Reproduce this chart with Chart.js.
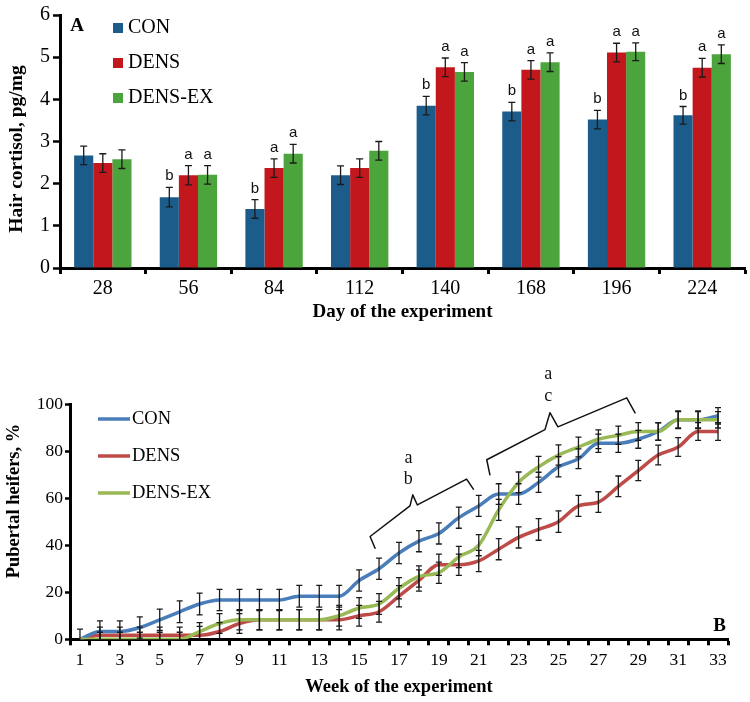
<!DOCTYPE html>
<html>
<head>
<meta charset="utf-8">
<script src="https://cdn.jsdelivr.net/npm/chart.js@4.4.0/dist/chart.umd.min.js"></script>
<style>
  body { margin: 0; background: #fff; }
  #wrap { position: relative; width: 750px; height: 702px; }
  #cortisolCanvas { position: absolute; left: 0; top: 0; }
  #pubertyCanvas { position: absolute; left: 0; top: 340px; }
</style>
</head>
<body>
<div id="wrap">
  <canvas id="cortisolCanvas" width="750" height="330"></canvas>
  <canvas id="pubertyCanvas" width="750" height="362"></canvas>
</div>
<script>
// Panel A - hair cortisol by day of the experiment
const days = ['28', '56', '84', '112', '140', '168', '196', '224'];
const cortisolCon = [2.67, 1.68, 1.40, 2.20, 3.85, 3.71, 3.52, 3.62];
const cortisolDens = [2.49, 2.20, 2.37, 2.37, 4.76, 4.70, 5.11, 4.75];
const cortisolDensEx = [2.58, 2.21, 2.71, 2.78, 4.65, 4.88, 5.13, 5.07];
const cortisolConErr = [0.22, 0.23, 0.22, 0.22, 0.22, 0.22, 0.22, 0.21];
const cortisolDensErr = [0.22, 0.23, 0.22, 0.22, 0.22, 0.22, 0.22, 0.22];
const cortisolDensExErr = [0.22, 0.22, 0.22, 0.22, 0.22, 0.22, 0.21, 0.22];
const lettersCon = ['', 'b', 'b', '', 'b', 'b', 'b', 'b'];
const lettersDens = ['', 'a', 'a', '', 'a', 'a', 'a', 'a'];
const lettersDensEx = ['', 'a', 'a', '', 'a', 'a', 'a', 'a'];
const cortisolTicks = [0, 1, 2, 3, 4, 5, 6];

// Panel B - pubertal heifers by week
const weeks = [1, 2, 3, 4, 5, 6, 7, 8, 9, 10, 11, 12, 13, 14, 15, 16, 17, 18, 19, 20, 21, 22, 23, 24, 25, 26, 27, 28, 29, 30, 31, 32, 33];
const weekLabels = [1, 3, 5, 7, 9, 11, 13, 15, 17, 19, 21, 23, 25, 27, 29, 31, 33];
const pubertalCon = [0, 3.3, 3.3, 5, 8.3, 11.7, 15, 16.7, 16.7, 16.7, 16.7, 18.3, 18.3, 18.3, 25, 30, 36.7, 41.7, 45, 51.7, 56.7, 61.7, 61.7, 66.7, 73.3, 76.7, 83.3, 83.3, 85, 88.3, 93.3, 93.3, 95];
const pubertalDens = [0, 1.7, 1.7, 1.7, 1.7, 1.7, 1.7, 3.3, 6.7, 8.3, 8.3, 8.3, 8.3, 8.3, 10, 11.7, 18.3, 25, 31.7, 31.7, 33.3, 38.3, 43.3, 46.7, 50, 56.7, 58.3, 65, 71.7, 78.3, 81.7, 88.3, 88.3];
const pubertalDensEx = [0, 0, 0, 0, 0, 0, 3.3, 6.7, 8.3, 8.3, 8.3, 8.3, 8.3, 10, 13.3, 15, 21.7, 26.7, 28.3, 35, 40, 55, 66.7, 73.3, 78.3, 81.7, 85, 86.7, 88.3, 88.3, 93.3, 93.3, 93.3];
const pubertalConErr = [4.3, 4.5, 4.5, 4.5, 4.5, 4.6, 4.6, 4.5, 4.5, 4.5, 4.5, 4.6, 4.6, 4.6, 4.5, 4.5, 4.5, 4.5, 4.5, 4.5, 4.5, 4.4, 4.4, 4.3, 4.3, 4.2, 3.9, 3.9, 3.8, 3.7, 3.8, 3.8, 3.5];
const pubertalDensErr = [0, 3.5, 3.5, 3.5, 3.5, 3.5, 3.8, 3.8, 4.2, 4.3, 4.3, 4.3, 4.3, 4.3, 4.4, 4.4, 4.5, 4.5, 4.5, 4.5, 4.5, 4.5, 4.5, 4.6, 4.6, 4.5, 4.4, 4.4, 4.3, 4.2, 4.0, 3.8, 3.8];
const pubertalDensExErr = [0, 3.0, 3.0, 3.0, 3.0, 3.0, 3.8, 4.2, 4.3, 4.3, 4.3, 4.3, 4.3, 4.4, 4.4, 4.4, 4.5, 4.5, 4.5, 4.5, 4.5, 4.5, 4.4, 4.4, 4.3, 4.2, 4.0, 3.9, 3.8, 3.8, 3.5, 3.5, 3.5];
const pubertalTicks = [0, 20, 40, 60, 80, 100];

// significance braces, points as [week, %]
const braceAB = [[15.80, 38.7], [15.55, 43.7], [17.55, 56.7], [17.69, 61.4], [17.92, 57.1], [20.39, 68.1], [20.73, 63.8]];
const braceAC = [[21.56, 69.9], [21.40, 76.3], [24.32, 89.1], [24.57, 96.3], [24.97, 90.3], [28.42, 102.6], [28.84, 96.2]];
const braceLabels = [
  { text: 'a', week: 17.47, value: 77 },
  { text: 'b', week: 17.47, value: 68.1 },
  { text: 'a', week: 24.49, value: 112.5 },
  { text: 'c', week: 24.49, value: 103.2 }
];

const serif = "'Liberation Serif', 'Times New Roman', serif";
const sans = "'Liberation Sans', Arial, sans-serif";

Chart.defaults.font.family = serif;
Chart.defaults.color = '#000';

// error bars (and letters if a dataset has them)
const errorBars = {
  id: 'errorBars',
  afterDatasetsDraw(chart, args, opts) {
    const { ctx, chartArea } = chart;
    const yScale = chart.scales.y;
    ctx.save();
    ctx.beginPath();
    ctx.rect(chartArea.left, chartArea.top, chartArea.width, chartArea.height);
    ctx.clip();
    ctx.strokeStyle = '#1a1a1a';
    ctx.lineWidth = opts.lineWidth;
    chart.data.datasets.forEach((ds, i) => {
      chart.getDatasetMeta(i).data.forEach((el, j) => {
        const err = ds.errors[j];
        if (!err) return;
        const v = ds.data[j];
        const top = yScale.getPixelForValue(v + err);
        const bottom = yScale.getPixelForValue(v - err);
        ctx.beginPath();
        ctx.moveTo(el.x, top);
        ctx.lineTo(el.x, bottom);
        ctx.moveTo(el.x - opts.cap, top);
        ctx.lineTo(el.x + opts.cap, top);
        ctx.moveTo(el.x - opts.cap, bottom);
        ctx.lineTo(el.x + opts.cap, bottom);
        ctx.stroke();
      });
    });
    ctx.restore();

    ctx.save();
    ctx.font = '15px ' + sans;
    ctx.fillStyle = '#111';
    ctx.textAlign = 'center';
    chart.data.datasets.forEach((ds, i) => {
      if (!ds.letters) return;
      chart.getDatasetMeta(i).data.forEach((el, j) => {
        if (!ds.letters[j]) return;
        ctx.fillText(ds.letters[j], el.x, yScale.getPixelForValue(ds.data[j] + ds.errors[j]) - 7);
      });
    });
    ctx.restore();
  }
};

// legend inside the plot, one entry per row
const sideLegend = {
  id: 'sideLegend',
  afterDraw(chart, args, opts) {
    const ctx = chart.ctx;
    ctx.save();
    ctx.font = opts.fontSize + 'px ' + serif;
    ctx.textBaseline = 'middle';
    ctx.fillStyle = '#000';
    chart.data.datasets.forEach((ds, i) => {
      const y = opts.y + i * opts.gap;
      if (opts.kind === 'box') {
        ctx.fillStyle = ds.backgroundColor;
        ctx.fillRect(opts.x, y - 5, 10, 10);
      } else {
        ctx.strokeStyle = ds.borderColor;
        ctx.lineWidth = 3.5;
        ctx.beginPath();
        ctx.moveTo(opts.x, y);
        ctx.lineTo(opts.x + 32, y);
        ctx.stroke();
      }
      ctx.fillStyle = '#000';
      ctx.fillText(ds.label, opts.textX, y);
    });
    ctx.restore();
  }
};

// panel letter and rotated y title
const panelText = {
  id: 'panelText',
  afterDraw(chart, args, opts) {
    const ctx = chart.ctx;
    ctx.save();
    ctx.fillStyle = '#000';
    ctx.textAlign = 'center';
    ctx.textBaseline = 'middle';
    ctx.font = 'bold ' + opts.panelSize + 'px ' + serif;
    ctx.fillText(opts.panel, opts.panelX, opts.panelY);
    ctx.translate(opts.titleX, opts.titleY);
    ctx.rotate(-Math.PI / 2);
    ctx.font = 'bold ' + opts.titleSize + 'px ' + serif;
    ctx.fillText(opts.title, 0, 0);
    ctx.restore();
  }
};

// curly braces with letters for panel B
const braces = {
  id: 'braces',
  afterDraw(chart) {
    const { ctx, scales } = chart;
    const px = w => scales.x.getPixelForValue(w - 1);
    const py = v => scales.y.getPixelForValue(v);
    ctx.save();
    ctx.strokeStyle = '#111';
    ctx.lineWidth = 1.5;
    ctx.lineJoin = 'round';
    ctx.lineCap = 'round';
    [braceAB, braceAC].forEach(pts => {
      ctx.beginPath();
      pts.forEach(([w, v], k) => {
        if (k === 0) ctx.moveTo(px(w), py(v));
        else ctx.lineTo(px(w), py(v));
      });
      ctx.stroke();
    });
    ctx.font = '18px ' + serif;
    ctx.fillStyle = '#111';
    ctx.textAlign = 'center';
    ctx.textBaseline = 'middle';
    braceLabels.forEach(l => ctx.fillText(l.text, px(l.week), py(l.value)));
    ctx.restore();
  }
};

new Chart(document.getElementById('cortisolCanvas'), {
  type: 'bar',
  data: {
    labels: days,
    datasets: [
      { label: 'CON', data: cortisolCon, errors: cortisolConErr, letters: lettersCon, backgroundColor: '#1c5c8a' },
      { label: 'DENS', data: cortisolDens, errors: cortisolDensErr, letters: lettersDens, backgroundColor: '#c2181d' },
      { label: 'DENS-EX', data: cortisolDensEx, errors: cortisolDensExErr, letters: lettersDensEx, backgroundColor: '#4ca43c' }
    ]
  },
  options: {
    responsive: false,
    animation: false,
    datasets: { bar: { categoryPercentage: 0.67, barPercentage: 1.0 } },
    layout: { padding: { top: 14, right: 5, left: 0, bottom: 0 } },
    plugins: {
      legend: { display: false },
      tooltip: { enabled: false },
      errorBars: { cap: 3.5, lineWidth: 1.3 },
      sideLegend: { kind: 'box', x: 113, textX: 128, y: 28, gap: 35, fontSize: 20 },
      panelText: { panel: 'A', panelX: 77, panelY: 26, panelSize: 19, title: 'Hair cortisol, pg/mg', titleX: 17, titleY: 149, titleSize: 19.5 }
    },
    scales: {
      x: {
        grid: { offset: true, drawOnChartArea: false, tickLength: 6, tickWidth: 3, tickColor: '#000' },
        border: { width: 3, color: '#000' },
        ticks: { font: { size: 20 }, color: '#000', padding: 3, maxRotation: 0 },
        title: { display: true, text: 'Day of the experiment', font: { size: 19, weight: 'bold' }, color: '#000', padding: { top: 0, bottom: 7 } },
        afterFit: s => { s.height = 62; }
      },
      y: {
        min: 0,
        max: 6,
        afterBuildTicks: s => { s.ticks = cortisolTicks.map(v => ({ value: v })); },
        ticks: { font: { size: 20 }, color: '#000', padding: 3 },
        grid: { drawOnChartArea: false, tickLength: 7, tickWidth: 2.5, tickColor: '#000' },
        border: { width: 3, color: '#000' },
        afterFit: s => { s.width = 60; }
      }
    }
  },
  plugins: [errorBars, sideLegend, panelText]
});

new Chart(document.getElementById('pubertyCanvas'), {
  type: 'line',
  data: {
    labels: weeks,
    datasets: [
      { label: 'CON', data: pubertalCon, errors: pubertalConErr, borderColor: '#4a7ebb', order: 1 },
      { label: 'DENS', data: pubertalDens, errors: pubertalDensErr, borderColor: '#be4b48', order: 2 },
      { label: 'DENS-EX', data: pubertalDensEx, errors: pubertalDensExErr, borderColor: '#98b954', order: 0 }
    ]
  },
  options: {
    responsive: false,
    animation: false,
    elements: {
      line: { borderWidth: 3.5, cubicInterpolationMode: 'monotone', fill: false },
      point: { radius: 0, hoverRadius: 0 }
    },
    layout: { padding: { top: 64, right: 22, left: 0, bottom: 0 } },
    plugins: {
      legend: { display: false },
      tooltip: { enabled: false },
      errorBars: { cap: 3, lineWidth: 1.3 },
      sideLegend: { kind: 'line', x: 98, textX: 132, y: 79, gap: 37, fontSize: 18.5 },
      panelText: { panel: 'B', panelX: 719.5, panelY: 286, panelSize: 19, title: 'Pubertal heifers, %', titleX: 14, titleY: 161, titleSize: 18.5 }
    },
    scales: {
      x: {
        offset: true,
        grid: { offset: true, drawOnChartArea: false, tickLength: 6, tickWidth: 3, tickColor: '#000' },
        border: { width: 3, color: '#000' },
        ticks: {
          font: { size: 17.5 }, color: '#000', padding: 5, maxRotation: 0, autoSkip: false,
          callback: (val, idx) => weekLabels.includes(weeks[idx]) ? String(weeks[idx]) : ''
        },
        title: { display: true, text: 'Week of the experiment', font: { size: 18.5, weight: 'bold' }, color: '#000', padding: { top: 0, bottom: 4 } },
        afterFit: s => { s.height = 62.7; }
      },
      y: {
        min: 0,
        max: 100,
        afterBuildTicks: s => { s.ticks = pubertalTicks.map(v => ({ value: v })); },
        ticks: { font: { size: 17.5 }, color: '#000', padding: 2 },
        grid: { drawOnChartArea: false, tickLength: 5, tickWidth: 2.5, tickColor: '#000' },
        border: { width: 3, color: '#000' },
        afterFit: s => { s.width = 70; }
      }
    }
  },
  plugins: [errorBars, sideLegend, panelText, braces]
});
</script>
</body>
</html>
